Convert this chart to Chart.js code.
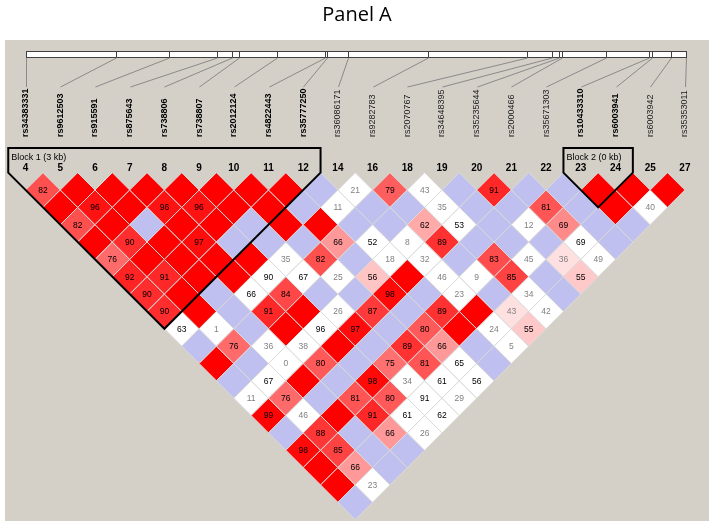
<!DOCTYPE html>
<html>
<head>
<meta charset="utf-8">
<title>Panel A</title>
<script src="https://cdn.jsdelivr.net/npm/chart.js@4.4.1/dist/chart.umd.min.js"></script>
<style>
  body { margin: 0; background: #fff; }
  #wrap { width: 713px; height: 527px; }
</style>
</head>
<body>
<div id="wrap"><canvas id="ld" width="713" height="527"></canvas></div>
<script>
// markers, left to right
const snpNames = [
  "rs34383331", "rs9612503", "rs915591", "rs875643", "rs738806", "rs738807",
  "rs2012124", "rs4822443", "rs35777250", "rs36086171", "rs9282783", "rs2070767",
  "rs34648395", "rs35235644", "rs2000466", "rs35671303", "rs10433310", "rs6003941",
  "rs6003942", "rs35353011"
];
const snpNumbers = ["4", "5", "6", "7", "8", "9", "10", "11", "12", "14", "16", "18", "19", "20", "21", "22", "23", "24", "25", "27"];
// physical position, bp from the first marker
const snpPositions = [0, 897, 1430, 1907, 2063, 2127, 2507, 2990, 3013, 3217, 4017, 5010, 5263, 5330, 5357, 5800, 6230, 6257, 6447, 6600];

// haplotype blocks (marker index range)
const blockFirst = [0, 16];
const blockLast = [8, 17];
const blockLabels = ["Block 1 (3 kb)", "Block 2 (0 kb)"];

// D' x100 for marker i against markers i+1 .. end (100 = no number shown)
const dprime = [
  [82, 100, 82, 100, 76, 92, 90, 90, 63, 100, 100, 100, 11, 99, 100, 98, 100, 100, 100],
  [100, 96, 100, 90, 100, 91, 100, 100, 1, 76, 100, 67, 76, 46, 88, 85, 66, 23],
  [100, 100, 100, 100, 100, 100, 100, 100, 100, 36, 0, 100, 100, 100, 100, 100, 100],
  [100, 96, 100, 97, 100, 100, 66, 91, 100, 38, 80, 100, 81, 91, 66, 100],
  [100, 96, 100, 100, 100, 90, 84, 100, 96, 100, 100, 98, 80, 61, 26],
  [100, 100, 100, 100, 35, 67, 100, 26, 97, 100, 75, 34, 91, 62],
  [100, 100, 100, 100, 82, 25, 100, 87, 100, 89, 81, 61, 29],
  [100, 100, 100, 66, 100, 56, 98, 100, 80, 66, 65, 56],
  [100, 11, 100, 52, 18, 100, 100, 89, 100, 100, 100],
  [21, 100, 100, 8, 32, 46, 23, 100, 24, 5],
  [79, 100, 62, 89, 100, 9, 100, 43, 55],
  [43, 35, 53, 100, 83, 85, 34, 42],
  [100, 100, 100, 100, 45, 100, 100],
  [91, 100, 12, 100, 36, 55],
  [100, 81, 69, 69, 49],
  [100, 100, 100, 100],
  [100, 100, 100],
  [100, 40],
  [100]
];
// LOD >= 2 ? (1 = yes)
const strongLD = [
  [1, 1, 1, 1, 1, 1, 1, 1, 0, 0, 1, 0, 0, 1, 0, 1, 1, 1, 0],
  [1, 1, 1, 1, 1, 1, 1, 1, 0, 1, 0, 0, 1, 0, 1, 1, 1, 0],
  [1, 1, 0, 1, 1, 1, 0, 0, 0, 0, 0, 1, 0, 1, 0, 0, 0],
  [1, 1, 1, 1, 1, 1, 0, 1, 1, 0, 1, 0, 1, 1, 1, 0],
  [1, 1, 1, 0, 1, 0, 1, 1, 0, 1, 0, 1, 1, 0, 0],
  [1, 1, 0, 0, 0, 0, 0, 0, 1, 0, 1, 0, 0, 0],
  [1, 1, 1, 0, 1, 0, 0, 1, 0, 1, 1, 0, 0],
  [1, 0, 1, 1, 0, 1, 1, 0, 1, 1, 0, 0],
  [0, 0, 0, 0, 0, 1, 0, 1, 1, 0, 0],
  [0, 0, 0, 0, 0, 0, 0, 1, 0, 0],
  [1, 0, 1, 1, 0, 0, 0, 1, 1],
  [0, 0, 0, 0, 1, 1, 0, 0],
  [0, 0, 0, 0, 0, 0, 0],
  [1, 0, 0, 0, 1, 1],
  [0, 1, 1, 0, 0],
  [0, 0, 0, 0],
  [1, 1, 0],
  [1, 0],
  [1]
];

// one diamond per marker pair: x = midpoint of the two markers, y = distance
const cells = [];
dprime.forEach((row, i) => {
  row.forEach((d, n) => {
    const j = i + 1 + n;
    cells.push({ x: (i + j) / 2, y: j - i, d: d, strong: strongLD[i][n] });
  });
});

function cellColor(c) {
  if (c.strong) {
    const g = Math.round(Math.min(224, 446 * (1 - c.d / 100)));
    return "rgb(255," + g + "," + g + ")";
  }
  return c.d === 100 ? "rgb(192,192,240)" : "#ffffff";
}

const W = 713, H = 527;
const COL = 34.7, X0 = 25.6, Y1 = 190;
const FONT = "'Liberation Sans', Arial, sans-serif";

const inBlock = (idx) => blockFirst.some((f, b) => idx >= f && idx <= blockLast[b]);

const decorations = {
  id: "decorations",
  beforeDraw(chart) {
    const ctx = chart.ctx;
    ctx.save();
    ctx.fillStyle = "#ffffff";
    ctx.fillRect(0, 0, W, H);
    ctx.fillStyle = "rgb(212,208,200)";
    ctx.fillRect(5, 40, 704, 481);
    ctx.fillStyle = "#000";
    ctx.font = "20px 'Open Sans', sans-serif";
    ctx.textAlign = "center";
    ctx.textBaseline = "alphabetic";
    ctx.fillText("Panel A", 357, 21);
    ctx.restore();
  },
  afterDatasetsDraw(chart) {
    const ctx = chart.ctx;
    const xs = chart.scales.x, ys = chart.scales.y, xp = chart.scales.xp;
    const meta = chart.getDatasetMeta(0);

    ctx.save();
    // D' numbers
    ctx.font = "8.5px " + FONT;
    ctx.textAlign = "center";
    ctx.textBaseline = "middle";
    meta.data.forEach((pt, k) => {
      const c = cells[k];
      if (c.d >= 100) return;
      ctx.fillStyle = c.d < 50 ? "#808080" : "#000";
      ctx.fillText(String(c.d), pt.x, pt.y + 0.5);
    });

    // block outlines
    ctx.strokeStyle = "#000";
    ctx.lineWidth = 2;
    blockFirst.forEach((f, b) => {
      const l = blockLast[b];
      const left = xs.getPixelForValue(f - 0.5);
      const right = xs.getPixelForValue(l + 0.5);
      const top = ys.getPixelForValue(0);
      const apexX = xs.getPixelForValue((f + l) / 2);
      const apexY = ys.getPixelForValue(l - f + 1);
      ctx.beginPath();
      ctx.moveTo(apexX, apexY);
      ctx.lineTo(left, top);
      ctx.lineTo(left, 148);
      ctx.lineTo(right, 148);
      ctx.lineTo(right, top);
      ctx.closePath();
      ctx.stroke();
      ctx.fillStyle = "#000";
      ctx.font = "9px " + FONT;
      ctx.textAlign = "left";
      ctx.textBaseline = "alphabetic";
      ctx.fillText(blockLabels[b], left + 3, 160);
    });

    // marker numbers
    ctx.font = "bold 10px " + FONT;
    ctx.textAlign = "center";
    ctx.textBaseline = "middle";
    snpNumbers.forEach((n, i) => ctx.fillText(n, xs.getPixelForValue(i), 168));

    // marker names
    snpNames.forEach((name, i) => {
      ctx.save();
      ctx.translate(xs.getPixelForValue(i), 137);
      ctx.rotate(-Math.PI / 2);
      ctx.font = (inBlock(i) ? "bold " : "") + "9px " + FONT;
      ctx.fillStyle = inBlock(i) ? "#000" : "#222";
      ctx.textAlign = "left";
      ctx.textBaseline = "middle";
      ctx.fillText(name, 0, 0);
      ctx.restore();
    });

    // physical map bar
    const barL = xp.getPixelForValue(snpPositions[0]);
    const barR = xp.getPixelForValue(snpPositions[snpPositions.length - 1]);
    ctx.fillStyle = "#fff";
    ctx.fillRect(barL, 51, barR - barL, 6);
    ctx.lineWidth = 1;
    ctx.strokeStyle = "#404040";
    ctx.strokeRect(Math.round(barL) + 0.5, 51.5, Math.round(barR - barL), 6);
    ctx.beginPath();
    snpPositions.forEach((p) => {
      const x = Math.round(xp.getPixelForValue(p)) + 0.5;
      ctx.moveTo(x, 51);
      ctx.lineTo(x, 58);
    });
    ctx.stroke();
    ctx.strokeStyle = "#8a8a8a";
    ctx.beginPath();
    snpPositions.forEach((p, i) => {
      ctx.moveTo(Math.round(xp.getPixelForValue(p)) + 0.5, 58);
      ctx.lineTo(Math.round(xs.getPixelForValue(i)) + 0.5, 87);
    });
    ctx.stroke();
    ctx.restore();
  }
};

new Chart(document.getElementById("ld"), {
  type: "scatter",
  data: {
    datasets: [{
      data: cells,
      pointStyle: "rectRot",
      pointRadius: (ctx) => {
        const s = ctx.chart.scales.x;
        return (s.getPixelForValue(1) - s.getPixelForValue(0)) / 2;
      },
      backgroundColor: (ctx) => cellColor(cells[ctx.dataIndex]),
      borderColor: "rgb(218,218,218)",
      borderWidth: 1
    }]
  },
  options: {
    responsive: false,
    devicePixelRatio: 1,
    animation: false,
    events: [],
    layout: { padding: 0 },
    plugins: { legend: { display: false }, tooltip: { enabled: false } },
    scales: {
      x: { type: "linear", display: false, min: -X0 / COL, max: (W - X0) / COL },
      xp: { type: "linear", axis: "x", display: false, min: -260, max: (W - 26) * 10 - 260 + 260 },
      y: { type: "linear", display: false, reverse: true, min: 1 - Y1 / (COL / 2), max: 1 + (H - Y1) / (COL / 2) }
    }
  },
  plugins: [decorations]
});
</script>
</body>
</html>
